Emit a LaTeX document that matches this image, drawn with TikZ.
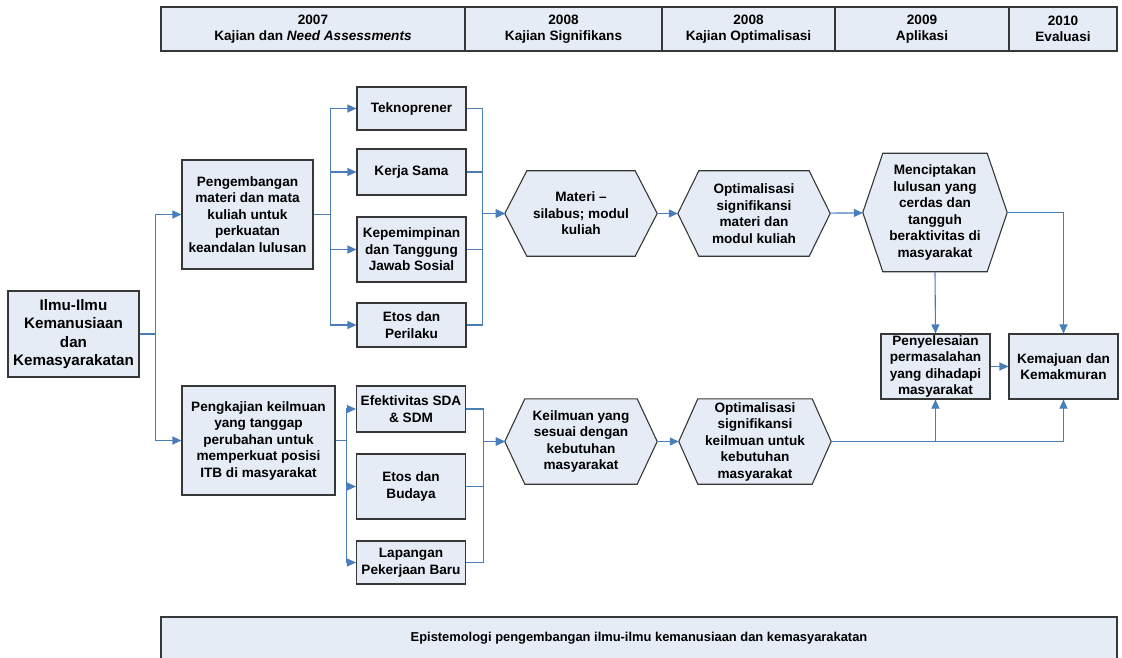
\documentclass[tikz,border=0pt]{standalone}
\usepackage{fontspec}
\setmainfont{Liberation Sans}
\usetikzlibrary{arrows.meta,calc}
\pgfdeclarelayer{bg}
\pgfsetlayers{bg,main}
\definecolor{boxfill}{RGB}{230,236,246}
\definecolor{linkblue}{RGB}{74,126,187}
\definecolor{boxline}{RGB}{55,55,55}

\begin{document}
\begin{tikzpicture}[
			x = 1pt, y = -1pt,
			every node/.style = {font=\bfseries\fontsize{13.6}{16.5}\selectfont, align=center, inner sep=0pt},
			kotak/.style = {draw=boxline, line width=1.1pt, fill=boxfill, minimum width=#1},
			kotak/.default = 109pt,
			heks/.style = {minimum width=#1, minimum height=85pt},
			heks/.default = 152pt,
			hekline/.style = {draw=boxline, line width=1.1pt, fill=boxfill},
			link/.style = {draw=linkblue, line width=1.1pt},
			arr/.style = {link, -{Triangle[length=9pt,width=8pt]}}
			]
			\clip (0,0) rectangle (1122,658);

			% tahapan
			\node[kotak=304pt, minimum height=44pt] (y07) at (313,29) {2007\\Kajian dan \textit{Need Assessments}};
			\node[kotak=197pt, minimum height=44pt] (y08a) at (563.5,29) {2008\\Kajian Signifikans};
			\node[kotak=173pt, minimum height=44pt] (y08b) at (748.5,29) {2008\\Kajian Optimalisasi};
			\node[kotak=174pt, minimum height=44pt] (y09) at (922,29) {2009\\Aplikasi};
			\node[kotak=108pt, minimum height=44pt] (y10) at (1063,29) {2010\\Evaluasi};

			\node[kotak=131pt, minimum height=86pt, font=\bfseries\fontsize{15.2}{18.6}\selectfont] (ilmu) at (73.5,334) {Ilmu-Ilmu\\Kemanusiaan\\dan\\Kemasyarakatan};

			\node[kotak=131pt, minimum height=109pt] (kembang) at (247.5,214.5) {Pengembangan\\materi dan mata\\kuliah untuk\\perkuatan\\keandalan lulusan};
			\node[kotak=153pt, minimum height=109pt] (kaji) at (258.5,440.5) {Pengkajian keilmuan\\yang tanggap\\perubahan untuk\\memperkuat posisi\\ITB di masyarakat};

			\node[kotak, minimum height=43pt] (tekno) at (411.5,108.5) {Teknoprener};
			\node[kotak, minimum height=46pt] (kerja) at (411.5,172) {Kerja Sama};
			\node[kotak, minimum height=65pt] (pimpin) at (411.5,249.5) {Kepemimpinan\\dan Tanggung\\Jawab Sosial};
			\node[kotak, minimum height=44pt] (etosp) at (411.5,325) {Etos dan\\Perilaku};

			\node[kotak, minimum height=46pt] (efek) at (411,409) {Efektivitas SDA\\\& SDM};
			\node[kotak, minimum height=65pt] (etosb) at (411,486.5) {Etos dan\\Budaya};
			\node[kotak, minimum height=43pt] (lapang) at (411,562.5) {Lapangan\\Pekerjaan Baru};

			\node[heks] (materi) at (581,213.5) {Materi --\\silabus; modul\\kuliah};
			\node[heks] (optm) at (754,213.5) {Optimalisasi\\signifikansi\\materi dan\\modul kuliah};
			\node[heks=144pt, minimum height=118pt] (lulus) at (935,212.5) {Menciptakan\\lulusan yang\\cerdas dan\\tangguh\\beraktivitas di\\masyarakat};
			\node[heks] (keil) at (581,441.5) {Keilmuan yang\\sesuai dengan\\kebutuhan\\masyarakat};
			\node[heks] (optk) at (755,441.5) {Optimalisasi\\signifikansi\\keilmuan untuk\\kebutuhan\\masyarakat};

			\node[kotak, minimum height=65pt] (selesai) at (935.5,366.5) {Penyelesaian\\permasalahan\\yang dihadapi\\masyarakat};
			\node[kotak, minimum height=65pt] (maju) at (1063.5,366.5) {Kemajuan dan\\Kemakmuran};

			\node[kotak=956pt, minimum height=42pt, font=\bfseries\fontsize{12.9}{15}\selectfont] (epis) at (639,638) {Epistemologi pengembangan ilmu-ilmu kemanusiaan dan kemasyarakatan};

			\begin{pgfonlayer}{bg}
				\foreach \n/\t in {materi/22,optm/21,lulus/20,keil/20,optk/19}
					\draw[hekline] (\n.west) -- ([xshift=\t]\n.north west) -- ([xshift=-\t]\n.north east) -- (\n.east) -- ([xshift=-\t]\n.south east) -- ([xshift=\t]\n.south west) -- cycle;
			\end{pgfonlayer}

			% cabang
			\draw[arr] (ilmu.east) -- ++(16,0) |- (kembang.west);
			\draw[arr] (ilmu.east) -- ++(16,0) |- (kaji.west);
			\foreach \n in {tekno,kerja,pimpin,etosp}
				\draw[arr] (kembang.east) -- ++(17,0) |- (\n.west);
			\foreach \n in {efek,etosb,lapang}
				\draw[arr] (kaji.east) -- ++(11,0) |- (\n.west);

			\foreach \n in {tekno,kerja,pimpin,etosp}
				\draw[arr] (\n.east) -- ++(16,0) |- (materi.west);
			\foreach \n in {efek,etosb,lapang}
				\draw[arr] (\n.east) -- ++(17,0) |- (keil.west);

			\draw[arr] (materi) -- (optm);
			\draw[arr] (optm) -- (lulus);
			\draw[arr] (keil) -- (optk);

			\draw[arr] (lulus.east) -| (maju.north);
			\draw[arr] (lulus.south) -- (selesai.north);
			\draw[arr] (selesai) -- (maju);
			\draw[arr] (optk.east) -| (selesai.south);
			\draw[arr] (optk.east) -| (maju.south);

		\end{tikzpicture}
\end{document}
